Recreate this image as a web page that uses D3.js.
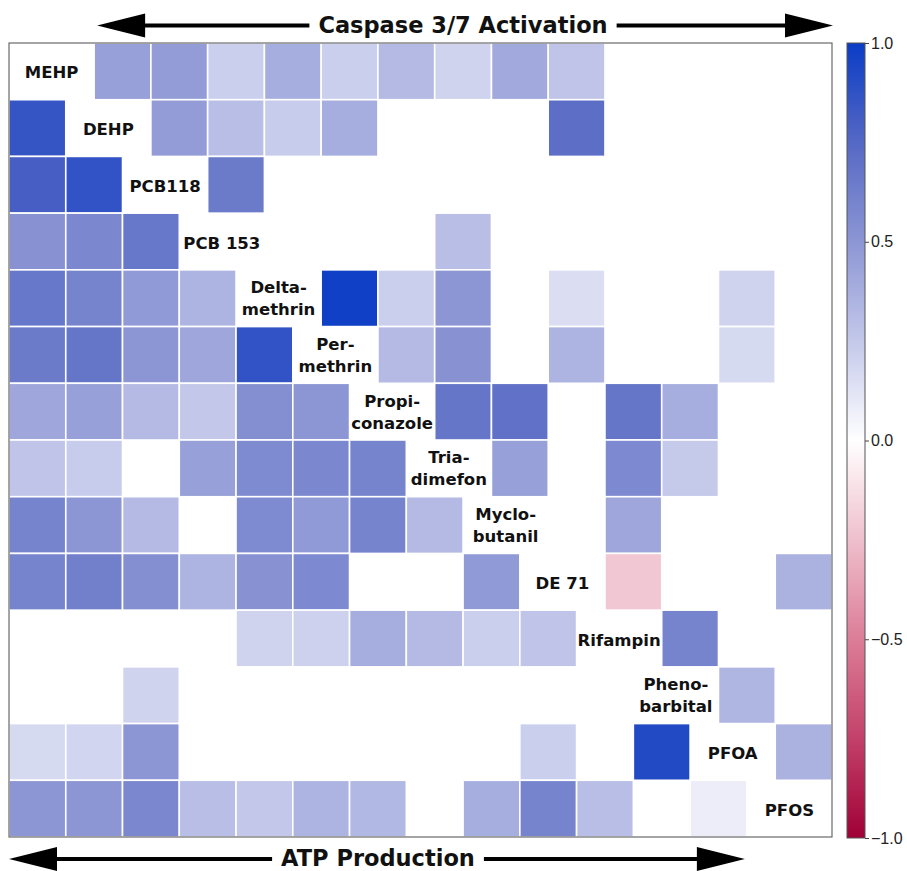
<!DOCTYPE html>
<html>
<head>
<meta charset="utf-8">
<script src="https://cdn.jsdelivr.net/npm/d3@7"></script>
<style>
  html, body { margin: 0; padding: 0; background: #fff; }
  svg { display: block; }
</style>
</head>
<body>
<svg id="chart" width="907" height="871"></svg>
<script>
// ---- data ----
const compounds = ["MEHP","DEHP","PCB118","PCB 153","Deltamethrin","Permethrin","Propiconazole",
  "Triadimefon","Myclobutanil","DE 71","Rifampin","Phenobarbital","PFOA","PFOS"];
const labelLines = [["MEHP"],["DEHP"],["PCB118"],["PCB 153"],["Delta-","methrin"],["Per-","methrin"],
  ["Propi-","conazole"],["Tria-","dimefon"],["Myclo-","butanil"],["DE 71"],["Rifampin"],
  ["Pheno-","barbital"],["PFOA"],["PFOS"]];
// correlation values: below diagonal = ATP production, above diagonal = caspase 3/7 activation
const _ = null;
const matrix = [
  [_, 0.45,0.47,0.22,0.38,0.22,0.32,0.20,0.40,0.27,_,_,_,_],
  [0.86,_, 0.47,0.30,0.23,0.38,_,_,_,0.72,_,_,_,_],
  [0.80,0.87,_, 0.65,_,_,_,_,_,_,_,_,_,_],
  [0.52,0.58,0.67,_, _,_,_,0.30,_,_,_,_,_,_],
  [0.67,0.60,0.48,0.35,_, 0.98,0.22,0.50,_,0.15,_,_,0.20,_],
  [0.65,0.68,0.50,0.42,0.87,_, 0.32,0.52,_,0.35,_,_,0.17,_],
  [0.42,0.45,0.32,0.25,0.54,0.50,_, 0.68,0.70,_,0.68,0.38,_,_],
  [0.27,0.23,_,0.45,0.56,0.58,0.60,_, 0.45,_,0.57,0.24,_,_],
  [0.60,0.50,0.32,_,0.56,0.48,0.60,0.32,_, _,0.42,_,_,_],
  [0.60,0.62,0.54,0.35,0.52,0.57,_,_,0.48,_, -0.22,_,_,0.36],
  [_,_,_,_,0.20,0.21,0.38,0.32,0.22,0.27,_, 0.60,_,_],
  [_,_,0.20,_,_,_,_,_,_,_,_,_, 0.34,_],
  [0.17,0.19,0.50,_,_,_,_,_,_,0.22,_,0.92,_, 0.36],
  [0.50,0.50,0.58,0.30,0.25,0.35,0.33,_,0.38,0.60,0.30,_,0.08,_]
];
const colorStops = [-1,-0.75,-0.5,-0.25,0,0.25,0.5,0.75,1];
const colorRange = ["#a00037","#c3416a","#dc7d97","#efbfcd","#ffffff","#c3c8ea","#8c96d4","#5668c4","#0a3cc6"];
const colorTicks = [1.0,0.5,0.0,-0.5,-1.0];
const topTitle = "Caspase 3/7 Activation";
const bottomTitle = "ATP Production";

// ---- layout ----
const svg = d3.select("#chart");
const pL = 9, pR = 832, pT = 43, pB = 837;
const n = compounds.length;
const x = d3.scaleLinear().domain([0, n + 0.5]).range([pL, pR]);
const y = d3.scaleBand().domain(d3.range(n)).range([pT, pB]);
const color = d3.scaleLinear().domain(colorStops).range(colorRange).interpolate(d3.interpolateRgb);
const cw = x(1) - x(0), ch = y.bandwidth();

const cells = [];
matrix.forEach((row, r) => row.forEach((v, c) => {
  if (v !== null && c !== r) cells.push({r, c, v, upper: c > r});
}));

svg.append("g").selectAll("rect").data(cells).join("rect")
  .attr("x", d => x(d.upper ? d.c + 0.5 : d.c))
  .attr("y", d => y(d.r))
  .attr("width", cw)
  .attr("height", ch)
  .attr("fill", d => color(d.v))
  .attr("stroke", "#fff")
  .attr("stroke-width", 1.6);

// frame
svg.append("rect").attr("x", pL).attr("y", pT).attr("width", pR - pL).attr("height", pB - pT)
  .attr("fill", "none").attr("stroke", "#6a6a6a").attr("stroke-width", 1.2);

// diagonal labels
const lab = svg.append("g").attr("font-family", "DejaVu Sans, Verdana, sans-serif")
  .attr("font-weight", "bold").attr("font-size", 16.5).attr("fill", "#111").attr("text-anchor", "middle");
labelLines.forEach((lines, r) => {
  const cx = x(r + 0.75), cyy = y(r) + ch / 2;
  const t = lab.append("text").attr("x", cx);
  if (lines.length === 1) {
    t.append("tspan").attr("x", cx).attr("y", cyy + 7).text(lines[0]);
  } else {
    t.append("tspan").attr("x", cx).attr("y", cyy - 5).text(lines[0]);
    t.append("tspan").attr("x", cx).attr("y", cyy + 17).text(lines[1]);
  }
});

// arrows with titles
function arrow(x0, x1, yy, textX, label, baseline) {
  const g = svg.append("g");
  const t = g.append("text").attr("x", textX).attr("y", baseline)
    .attr("text-anchor", "middle").attr("font-family", "DejaVu Sans, Verdana, sans-serif")
    .attr("font-weight", "bold").attr("font-size", 22.5).attr("fill", "#111").text(label);
  const bb = t.node().getBBox();
  const head = 48, hh = 12, gap = 9;
  g.append("line").attr("x1", x0 + head - 2).attr("x2", bb.x - gap).attr("y1", yy).attr("y2", yy)
    .attr("stroke", "#000").attr("stroke-width", 4);
  g.append("line").attr("x1", bb.x + bb.width + gap).attr("x2", x1 - head + 2).attr("y1", yy).attr("y2", yy)
    .attr("stroke", "#000").attr("stroke-width", 4);
  g.append("path").attr("d", `M${x0},${yy} L${x0 + head},${yy - hh} L${x0 + head},${yy + hh} Z`).attr("fill", "#000");
  g.append("path").attr("d", `M${x1},${yy} L${x1 - head},${yy - hh} L${x1 - head},${yy + hh} Z`).attr("fill", "#000");
}
arrow(x(1.5) + 3, pR + 1, 25.5, 463, topTitle, 33);
arrow(pL, x(n - 1) - 2, 859, 378, bottomTitle, 866);

// colorbar
const cbX = 847, cbW = 18;
const cbScale = d3.scaleLinear().domain([1, -1]).range([pT, pB + 1]);
const defs = svg.append("defs");
const grad = defs.append("linearGradient").attr("id", "cbgrad").attr("x1", 0).attr("x2", 0).attr("y1", 0).attr("y2", 1);
d3.range(0, 1.0001, 0.05).forEach(t => {
  grad.append("stop").attr("offset", t).attr("stop-color", color(1 - 2 * t));
});
svg.append("rect").attr("x", cbX).attr("y", pT).attr("width", cbW).attr("height", pB + 1 - pT)
  .attr("fill", "url(#cbgrad)").attr("stroke", "#555").attr("stroke-width", 1);
const axis = d3.axisRight(cbScale).tickValues(colorTicks).tickSize(4).tickPadding(2)
  .tickFormat(d => d3.format(".1f")(d).replace("-", "\u2212"));
const ag = svg.append("g").attr("transform", `translate(${cbX + cbW},0)`).call(axis);
ag.select(".domain").remove();
ag.selectAll("text").attr("font-family", "Liberation Sans, Arial, sans-serif").attr("font-size", 16).attr("fill", "#222");
ag.selectAll("line").attr("stroke", "#444");
</script>
</body>
</html>
